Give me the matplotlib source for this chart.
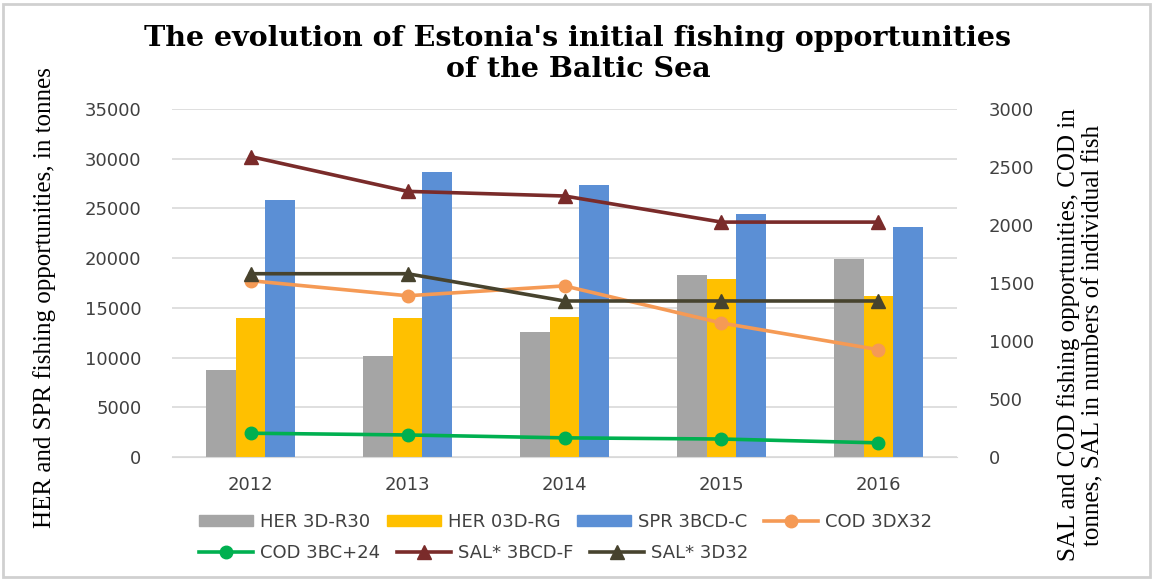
import matplotlib
matplotlib.use("Agg")
import matplotlib.pyplot as plt
from matplotlib.patches import Patch, Rectangle
from matplotlib.lines import Line2D
import numpy as np

years = ["2012", "2013", "2014", "2015", "2016"]
her_3d_r30 = [8750, 10150, 12600, 18300, 19900]
her_03d_rg = [14000, 14000, 14100, 17900, 16200]
spr_3bcd_c = [25800, 28700, 27400, 24400, 23100]
cod_3dx32 = [1520, 1390, 1475, 1155, 925]
cod_3bc24 = [205, 190, 165, 155, 122]
sal_3bcd_f = [2590, 2290, 2250, 2025, 2025]
sal_3d32 = [1580, 1580, 1345, 1345, 1345]

W, H = 1154, 580
fig = plt.figure(figsize=(W / 100, H / 100), dpi=100)
ax = fig.add_axes([172 / W, 1 - 457 / H, (957 - 172) / W, (457 - 109) / H])
ax2 = ax.twinx()

c_gray, c_yel, c_blue = "#A5A5A5", "#FFC000", "#5B8FD5"
c_or, c_gr, c_red, c_ol = "#F59A55", "#00B050", "#7A2B2A", "#47432E"
grid_c = "#D9D9D9"

x = np.arange(len(years))
bw = 0.19
ax.bar(x - bw, her_3d_r30, bw, color=c_gray, zorder=2)
ax.bar(x, her_03d_rg, bw, color=c_yel, zorder=2)
ax.bar(x + bw, spr_3bcd_c, bw, color=c_blue, zorder=2)

lw = 2.6
ax2.plot(x, cod_3dx32, color=c_or, lw=lw, marker="o", ms=9)
ax2.plot(x, cod_3bc24, color=c_gr, lw=lw, marker="o", ms=9)
ax2.plot(x, sal_3bcd_f, color=c_red, lw=lw, marker="^", ms=10)
ax2.plot(x, sal_3d32, color=c_ol, lw=lw, marker="^", ms=10)

ax.set_xlim(-0.5, 4.5)
ax.set_ylim(0, 35000)
ax.set_yticks(np.arange(0, 35001, 5000))
ax2.set_ylim(0, 3000)
ax2.set_yticks(np.arange(0, 3001, 500))
ax.set_xticks(x)
ax.set_xticklabels(years)

for a in (ax, ax2):
    for s in a.spines.values():
        s.set_visible(False)
    a.tick_params(length=0, labelsize=13, labelcolor="#404040")
ax.spines["bottom"].set_visible(True)
ax.spines["bottom"].set_color(grid_c)
ax.tick_params(axis="y", pad=22)
ax.tick_params(axis="x", pad=14)
ax2.tick_params(axis="y", pad=23)
ax.yaxis.grid(True, color=grid_c, lw=1.2, zorder=0)
ax.set_axisbelow(True)

title_kw = dict(ha="center", va="baseline", family="DejaVu Serif", weight="bold", size=20.5)
fig.text(578 / W, 1 - 46 / H, "The evolution of Estonia's initial fishing opportunities", **title_kw)
fig.text(578 / W, 1 - 77 / H, "of the Baltic Sea", **title_kw)
fig.text(45 / W, 1 - 298 / H, "HER and SPR fishing opportunities, in tonnes", rotation=90,
         ha="center", va="center", family="Liberation Serif", size=18)
fig.text(1081 / W, 1 - 335 / H, "SAL and COD fishing opportunities, COD in\ntonnes, SAL in numbers of individual fish",
         rotation=90, ha="center", va="center", family="Liberation Serif", size=18,
         multialignment="center", linespacing=1.15)

h1 = [Patch(color=c_gray), Patch(color=c_yel), Patch(color=c_blue),
      Line2D([], [], color=c_or, lw=lw, marker="o", ms=9)]
l1 = ["HER 3D-R30", "HER 03D-RG", "SPR 3BCD-C", "COD 3DX32"]
h2 = [Line2D([], [], color=c_gr, lw=lw, marker="o", ms=9),
      Line2D([], [], color=c_red, lw=lw, marker="^", ms=10),
      Line2D([], [], color=c_ol, lw=lw, marker="^", ms=10)]
l2 = ["COD 3BC+24", "SAL* 3BCD-F", "SAL* 3D32"]
common = dict(frameon=False, borderpad=0, handlelength=3.0, handleheight=0.5,
              handletextpad=0.4, columnspacing=0.9, prop=dict(family="DejaVu Sans", size=13),
              loc="center left")
leg1 = fig.legend(h1, l1, ncol=4, bbox_to_anchor=(190 / W, 1 - 522 / H), **common)
for t in leg1.get_texts():
    t.set_color("#404040")
leg2 = fig.legend(h2, l2, ncol=3, bbox_to_anchor=(190 / W, 1 - 553 / H), **common)
for t in leg2.get_texts():
    t.set_color("#404040")

fig.patches.append(Rectangle((3 / W, 3 / H), 1 - 7 / W, 1 - 7 / H, transform=fig.transFigure,
                             fill=False, edgecolor="#D0D0D0", lw=2))

fig.savefig("out.png", dpi=100)
